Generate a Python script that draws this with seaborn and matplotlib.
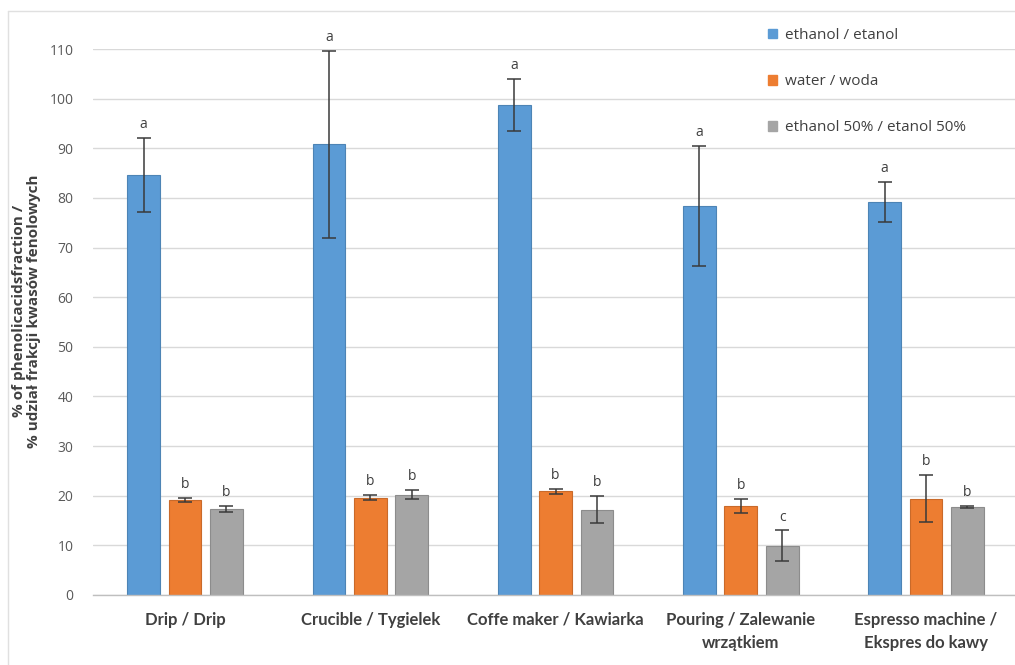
import numpy as np
import pandas as pd
import matplotlib
matplotlib.use("Agg")
import matplotlib.pyplot as plt
import seaborn as sns
from matplotlib.patches import Patch
from matplotlib.lines import Line2D

# Brewing methods and extraction solvents
methods = ["Drip / Drip", "Crucible / Tygielek", "Coffe maker / Kawiarka",
           "Pouring / Zalewanie\nwrzątkiem", "Espresso machine /\nEkspres do kawy"]
solvents = ["ethanol / etanol", "water / woda", "ethanol 50% / etanol 50%"]

# Share of phenolic acid fraction (%) with standard deviations
ethanol = [84.6, 90.8, 98.7, 78.3, 79.2]
ethanol_sd = [7.4, 18.8, 5.2, 12.1, 4.1]
water = [19.2, 19.6, 20.9, 18.0, 19.4]
water_sd = [0.4, 0.5, 0.5, 1.4, 4.7]
ethanol50 = [17.3, 20.2, 17.2, 9.9, 17.7]
ethanol50_sd = [0.6, 0.9, 2.7, 3.1, 0.2]

# Homogeneous groups
letters_ethanol = ["a", "a", "a", "a", "a"]
letters_water = ["b", "b", "b", "b", "b"]
letters_ethanol50 = ["b", "b", "b", "c", "b"]

yticks = list(range(0, 111, 10))
colors = ["#5B9BD5", "#ED7D31", "#A5A5A5"]

means = [ethanol, water, ethanol50]
sds = [ethanol_sd, water_sd, ethanol50_sd]
letters = [letters_ethanol, letters_water, letters_ethanol50]

df = pd.DataFrame({
    "method": methods * 3,
    "solvent": [s for s in solvents for _ in methods],
    "value": ethanol + water + ethanol50,
})

sns.set_theme(style="white")
plt.rcParams["font.family"] = ["Open Sans", "DejaVu Sans"]

W, H = 1015, 665
fig = plt.figure(figsize=(W / 100, H / 100), dpi=100)
ax = fig.add_axes([93 / W, (H - 595) / H, (W - 93) / W, (595 - 49) / H])

sns.barplot(data=df, x="method", y="value", hue="solvent", order=methods,
            hue_order=solvents, palette=colors, width=0.67, gap=0.21,
            errorbar=None, ax=ax, legend=False, saturation=1,
            edgecolor=None, linewidth=0.8)

# darker outline per series
for cont, col in zip(ax.containers, colors):
    for p in cont.patches:
        r, g, b, _ = matplotlib.colors.to_rgba(col)
        p.set_edgecolor((r * 0.85, g * 0.85, b * 0.85))
        p.set_linewidth(0.8)

# error bars and group letters placed on the bars drawn by seaborn
for cont, m, s, lt in zip(ax.containers, means, sds, letters):
    xs = [p.get_x() + p.get_width() / 2 for p in cont.patches]
    ax.errorbar(xs, m, yerr=s, fmt="none", ecolor="#3a3a3a", elinewidth=1.1,
                capsize=5, capthick=1.1, clip_on=False, zorder=4)
    for x, v, e, l in zip(xs, m, s, lt):
        ax.text(x, v + e + 1.2, l, ha="center", va="bottom", fontsize=10,
                color="#404040", clip_on=False, zorder=5)

ax.set_ylim(0, 110)
ax.set_xlim(-0.497, 4.48)
ax.set_yticks(yticks)
ax.set_yticklabels([str(t) for t in yticks], fontsize=10, color="#595959")
ax.yaxis.grid(True, color="#d9d9d9", linewidth=1)
ax.set_axisbelow(True)
ax.tick_params(axis="y", length=0, pad=14)
ax.tick_params(axis="x", length=0, pad=12)

for lab in ax.get_xticklabels():
    lab.set_family(["Lato", "DejaVu Sans"])
    lab.set_fontweight("bold")
    lab.set_fontsize(12)
    lab.set_color("#404040")
    lab.set_linespacing(1.6)

for side in ["left", "right", "top"]:
    ax.spines[side].set_visible(False)
ax.spines["bottom"].set_color("#bfbfbf")
ax.spines["bottom"].set_linewidth(1)

ax.set_xlabel("")
ax.set_ylabel("% of phenolicacidsfraction /\n% udział frakcji kwasów fenolowych",
              fontsize=11, fontweight="bold", color="#404040", linespacing=1.15)
ax.yaxis.set_label_coords(-0.056, 0.52)

handles = [Patch(facecolor=c, edgecolor=c) for c in colors]
fig.legend(handles, solvents, loc="upper left", bbox_to_anchor=(754 / W, 1 - 14 / H),
           frameon=False, fontsize=11, labelcolor="#404040", handlelength=0.6,
           handleheight=0.6, handletextpad=0.5, labelspacing=2.05)

# light chart frame on the left and top edges
fig.add_artist(Line2D([8 / W, 8 / W], [0, 1 - 11 / H], transform=fig.transFigure,
                      color="#e0e0e0", linewidth=1))
fig.add_artist(Line2D([8 / W, 1], [1 - 11 / H, 1 - 11 / H], transform=fig.transFigure,
                      color="#e0e0e0", linewidth=1))

fig.savefig("out.png", dpi=100, facecolor="white")
